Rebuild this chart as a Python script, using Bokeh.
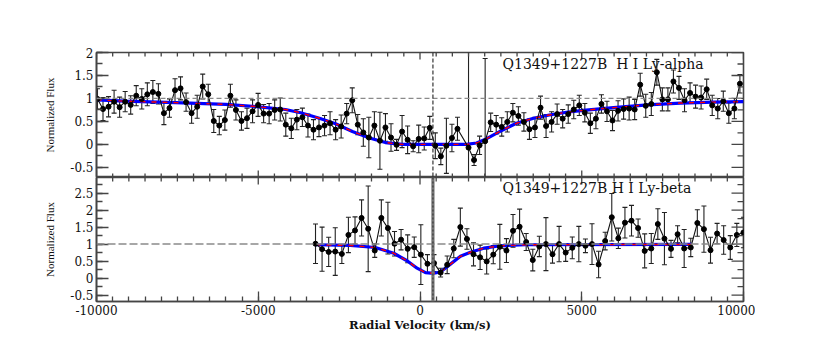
import numpy as np
from bokeh.plotting import figure
from bokeh.models import (ColumnDataSource, Label, LinearAxis, SingleIntervalTicker,
                          Range1d, Span)
from bokeh.layouts import column
from bokeh.embed import file_html
from bokeh.resources import INLINE

# ---------------- Ly-alpha panel data ----------------
LYA_V = [-9970, -9799, -9628, -9456, -9285, -9114, -8943, -8772, -8600, -8429,
         -8258, -8087, -7916, -7744, -7573, -7402, -7231, -7060, -6888, -6717,
         -6546, -6375, -6204, -6032, -5861, -5690, -5519, -5348, -5176, -5005,
         -4834, -4663, -4492, -4320, -4149, -3978, -3807, -3636, -3464, -3293,
         -3122, -2951, -2780, -2608, -2437, -2266, -2095, -1924, -1752, -1581,
         -1410, -1239, -1068, -896, -725, -554, -383, -212, -40, 131,
         302, 473, 644, 816, 987, 1158, 1500, 1671, 1842, 2014,
         2185, 2356, 2527, 2698, 2870, 3041, 3212, 3383, 3554, 3726,
         3897, 4068, 4239, 4410, 4582, 4753, 4924, 5095, 5266, 5438,
         5609, 5780, 5951, 6122, 6294, 6465, 6636, 6807, 6978, 7150,
         7321, 7492, 7663, 7834, 8006, 8177, 8348, 8519, 8690, 8862,
         9033, 9204, 9375, 9546, 9718, 9889]
LYA_F = [0.99, 0.77, 0.82, 0.93, 0.81, 0.93, 0.86, 1.06, 0.99, 1.09,
         1.14, 1.10, 0.68, 0.79, 1.18, 1.22, 0.92, 0.68, 0.82, 1.26,
         1.09, 0.51, 0.41, 0.53, 1.06, 0.75, 0.51, 0.57, 0.72, 0.86,
         0.67, 0.67, 0.75, 0.76, 0.43, 0.35, 0.54, 0.59, 0.41, 0.32,
         0.37, 0.41, 0.46, 0.32, 0.39, 0.67, 0.96, 0.43, 0.26, 0.15,
         0.41, 0.08, 0.37, 0.15, -0.01, 0.28, 0.10, -0.04, 0.12, 0.13,
         0.36, -0.03, -0.26, -0.03, 0.14, 0.34, -0.07, -0.34, -0.02, 0.07,
         0.48, 0.43, 0.38, 0.49, 0.69, 0.62, 0.49, 0.33, 0.37, 0.80,
         0.40, 0.49, 0.66, 0.56, 0.66, 0.76, 0.85, 0.69, 0.46, 0.56,
         0.88, 0.72, 0.52, 0.73, 0.77, 0.78, 0.76, 1.30, 0.84, 0.88,
         1.57, 0.98, 0.98, 1.37, 1.23, 0.96, 1.12, 1.04, 1.02, 1.20,
         0.85, 0.78, 0.94, 0.68, 0.78, 1.32]
LYA_E = [0.22, 0.25, 0.22, 0.25, 0.22, 0.22, 0.20, 0.22, 0.22, 0.25,
         0.25, 0.22, 0.25, 0.20, 0.25, 0.25, 0.20, 0.22, 0.25, 0.27,
         0.22, 0.25, 0.20, 0.22, 0.25, 0.22, 0.20, 0.22, 0.25, 0.25,
         0.20, 0.22, 0.22, 0.25, 0.25, 0.22, 0.22, 0.20, 0.25, 0.22,
         0.20, 0.22, 0.25, 0.22, 0.25, 0.22, 0.27, 0.22, 0.30, 0.44,
         0.30, 0.62, 0.30, 0.30, 0.12, 0.35, 0.30, 0.12, 0.30, 0.25,
         0.25, 0.28, 0.18, 0.60, 0.30, 0.25, 3.00, 0.12, 0.20, 1.80,
         0.20, 0.20, 0.20, 0.22, 0.20, 0.20, 0.20, 0.22, 0.22, 0.25,
         0.25, 0.22, 0.22, 0.20, 0.20, 0.20, 0.22, 0.20, 0.22, 0.22,
         0.20, 0.22, 0.22, 0.22, 0.22, 0.25, 0.22, 0.25, 0.25, 0.25,
         0.28, 0.25, 0.25, 0.25, 0.25, 0.25, 0.22, 0.25, 0.25, 0.22,
         0.22, 0.22, 0.22, 0.22, 0.22, 0.20]

LYA_MODEL_V = [-10000, -9100, -7560, -6010, -5180, -4160, -3690, -3110, -2610, -2090,
               -1560, -1070, -540, 1440, 1750, 1990, 2460, 2980, 3510, 4000,
               4530, 5050, 5980, 7030, 8050, 9070, 10000]
LYA_MODEL_F = [0.97, 0.94, 0.91, 0.87, 0.83, 0.76, 0.69, 0.57, 0.45, 0.28,
               0.14, 0.04, 0.0, 0.0, 0.03, 0.10, 0.28, 0.46, 0.57, 0.64,
               0.70, 0.74, 0.80, 0.86, 0.90, 0.92, 0.93]

# ---------------- Ly-beta panel data ----------------
LYB_V = [-3230, -3027, -2823, -2620, -2416, -2213, -2009, -1806, -1602, -1399,
         -1195, -992, -788, -585, -381, -178, 26, 230, 433, 637,
         840, 1044, 1247, 1451, 1654, 1858, 2061, 2265, 2468, 2672,
         2875, 3079, 3282, 3486, 3689, 3893, 4096, 4300, 4503, 4707,
         4910, 5114, 5317, 5521, 5724, 5928, 6131, 6335, 6538, 6742,
         6945, 7149, 7352, 7556, 7759, 7963, 8166, 8370, 8573, 8777,
         8980, 9184, 9387, 9591, 9794, 9998]
LYB_F = [1.01, 0.85, 0.77, 0.78, 0.71, 1.27, 1.40, 1.77, 1.45, 0.81,
         1.77, 1.47, 1.01, 1.13, 0.86, 0.91, 0.69, 0.42, 0.44, 0.16,
         0.39, 0.87, 1.50, 1.15, 0.70, 0.61, 0.49, 0.69, 0.92, 0.81,
         1.39, 1.51, 1.06, 0.53, 0.93, 1.00, 0.70, 1.00, 0.75, 0.89,
         1.00, 0.95, 1.00, 0.40, 1.09, 1.79, 1.17, 1.63, 1.69, 1.47,
         0.80, 0.87, 1.59, 1.16, 0.86, 1.29, 0.87, 0.90, 1.62, 1.44,
         0.82, 1.31, 1.12, 0.90, 1.27, 1.34]
LYB_E = [0.58, 0.65, 0.43, 0.70, 0.28, 0.52, 0.40, 0.53, 1.26, 0.20,
         0.53, 0.76, 0.36, 0.30, 0.41, 0.30, 0.88, 0.27, 0.25, 0.13,
         0.26, 0.27, 0.56, 0.30, 0.34, 0.36, 0.37, 0.27, 0.66, 0.35,
         0.48, 0.52, 0.25, 0.32, 0.30, 0.78, 0.26, 0.52, 0.26, 0.32,
         0.52, 0.20, 0.60, 0.39, 0.26, 0.70, 0.30, 0.45, 0.45, 0.27,
         0.50, 0.44, 0.45, 0.77, 0.25, 0.25, 0.56, 0.27, 0.39, 0.68,
         0.38, 0.30, 0.42, 0.35, 0.34, 0.45]

LYB_MODEL_V = [-3230, -2150, -1380, -810, -400, -90, 170, 430, 630, 940,
               1250, 1560, 1970, 2490, 3260, 8410]
LYB_MODEL_F = [0.98, 0.96, 0.90, 0.73, 0.51, 0.29, 0.16, 0.14, 0.18, 0.41,
               0.64, 0.76, 0.88, 0.95, 0.98, 0.99]

SYSTEMIC_V = 400
CONTINUUM = 1.0

X_RANGE = (-10000, 10000)
TOP_Y_RANGE = (-0.72, 2.0)
BOT_Y_RANGE = (-0.69, 2.96)

X_TICKS = [-10000, -5000, 0, 5000, 10000]
X_TICK_LABELS = ["-10000", "-5000", "0", "5000", "10000"]
TOP_Y_TICKS = [-0.5, 0, 0.5, 1, 1.5, 2]
TOP_Y_TICK_LABELS = ["-0.5", "0", "0.5", "1", "1.5", "2"]
BOT_Y_TICKS = [-0.5, 0, 0.5, 1, 1.5, 2, 2.5]
BOT_Y_TICK_LABELS = ["-0.5", "0", "0.5", "1", "1.5", "2", "2.5"]
X_MINOR_STEP = 500
Y_MINOR_STEP = 0.25

TOP_TITLE = "Q1349+1227B\u00a0 H I Ly-alpha"
BOT_TITLE = "Q1349+1227B H I Ly-beta"
Y_LABEL = "Normalized Flux"
X_LABEL = "Radial Velocity (km/s)"

AXIS_COLOR = "#454545"
TICK_FONT = "DejaVu Serif"


def make_axis(kind, major_in, minor_in, ticks, labels, axis_label):
    if kind == "x":
        ticker = SingleIntervalTicker(interval=5000, num_minor_ticks=10)
    else:
        ticker = SingleIntervalTicker(interval=0.5, num_minor_ticks=2)
    ax = LinearAxis(ticker=ticker)
    ax.major_tick_in = major_in
    ax.major_tick_out = 0
    ax.minor_tick_in = minor_in
    ax.minor_tick_out = 0
    ax.axis_line_color = AXIS_COLOR
    ax.axis_line_width = 1.6
    ax.major_tick_line_color = AXIS_COLOR
    ax.minor_tick_line_color = AXIS_COLOR
    ax.major_tick_line_width = 1.3
    ax.minor_tick_line_width = 1.3
    ax.major_label_overrides = {t: s for t, s in zip(ticks, labels)}
    ax.major_label_text_font = TICK_FONT
    ax.major_label_text_font_size = "12px"
    ax.major_label_text_color = "#111111"
    ax.major_label_standoff = 3
    ax.axis_label = axis_label
    return ax


def base_fig(yr, frame_h, top_border, bottom_border):
    p = figure(frame_width=647, frame_height=frame_h,
               x_range=Range1d(*X_RANGE), y_range=Range1d(*yr),
               output_backend="svg", toolbar_location=None,
               x_axis_location=None, y_axis_location=None,
               min_border_left=96, min_border_right=12,
               min_border_top=top_border, min_border_bottom=bottom_border,
               background_fill_color="white", border_fill_color="white")
    p.outline_line_color = AXIS_COLOR
    p.outline_line_width = 1.6
    p.xgrid.visible = False
    p.ygrid.visible = False
    return p


def inner_ticks(p, yr, x_major, y_major, sides):
    """Inward tick marks on unlabelled frame sides (half of a centred dash is clipped by the frame)."""
    xs_min = [v for v in np.arange(X_RANGE[0], X_RANGE[1] + 1, X_MINOR_STEP) if v not in x_major]
    y_all = np.arange(np.ceil(yr[0] / Y_MINOR_STEP) * Y_MINOR_STEP, yr[1] + 1e-9, Y_MINOR_STEP)
    ys_min = [v for v in y_all if not any(abs(v - m) < 1e-9 for m in y_major)]
    kw = dict(marker="dash", line_color=AXIS_COLOR, line_width=1.3)
    for side in sides:
        if side in ("top", "bottom"):
            yv = yr[1] if side == "top" else yr[0]
            p.scatter(x=list(x_major), y=[yv] * len(x_major), angle=np.pi / 2, size=14, **kw)
            p.scatter(x=xs_min, y=[yv] * len(xs_min), angle=np.pi / 2, size=8, **kw)
        else:
            xv = X_RANGE[1]
            p.scatter(x=[xv] * len(y_major), y=list(y_major), size=24, **kw)
            p.scatter(x=[xv] * len(ys_min), y=ys_min, size=12, **kw)


def draw_panel(p, v, f, e, mv, mf, cont_dash, cont_width):
    up = [a + b for a, b in zip(f, e)]
    lo = [a - b for a, b in zip(f, e)]
    src = ColumnDataSource(dict(v=v, f=f, up=up, lo=lo))
    p.add_layout(Span(location=CONTINUUM, dimension="width", line_color="#8a8a8a",
                      line_dash=cont_dash, line_width=cont_width))
    p.segment(x0="v", y0="lo", x1="v", y1="up", source=src, line_color="#222222", line_width=1.1)
    p.scatter(x="v", y="up", source=src, marker="dash", size=5, line_color="#222222", line_width=1.1)
    p.scatter(x="v", y="lo", source=src, marker="dash", size=5, line_color="#222222", line_width=1.1)
    p.line(mv, mf, line_color="#0000ff", line_width=3.2)
    p.line(mv, mf, line_color="#ff0000", line_width=1.4, line_dash="5 6")
    p.line(x="v", y="f", source=src, line_color="#111111", line_width=1.1)
    p.scatter(x="v", y="f", source=src, marker="circle", size=5,
              fill_color="#000000", line_color="#000000")


# ---------------- top panel ----------------
p1 = base_fig(TOP_Y_RANGE, 125, 52, 0)
draw_panel(p1, LYA_V, LYA_F, LYA_E, LYA_MODEL_V, LYA_MODEL_F, "5 3", 1.2)
p1.add_layout(Span(location=SYSTEMIC_V, dimension="height", line_color="#222222",
                   line_dash="4 2", line_width=1.1))
yl1 = make_axis("y", 12, 6, TOP_Y_TICKS, TOP_Y_TICK_LABELS, Y_LABEL)
p1.add_layout(yl1, "left")
inner_ticks(p1, TOP_Y_RANGE, X_TICKS, TOP_Y_TICKS, ("top", "bottom", "right"))
p1.add_layout(Label(x=2550, y=1.74, text=TOP_TITLE, text_font="DejaVu Serif",
                    text_font_size="14px", text_baseline="middle", text_color="#111111"))

# ---------------- bottom panel ----------------
p2 = base_fig(BOT_Y_RANGE, 124, 0, 40)
draw_panel(p2, LYB_V, LYB_F, LYB_E, LYB_MODEL_V, LYB_MODEL_F, "8 3", 1.5)
p2.add_layout(Span(location=SYSTEMIC_V, dimension="height", line_color="#777777",
                   line_width=3.2))
p2.add_layout(Span(location=SYSTEMIC_V, dimension="height", line_color="#333333",
                   line_dash="2 2", line_width=1))
xb = make_axis("x", 10, 5, X_TICKS, X_TICK_LABELS, X_LABEL)
p2.add_layout(xb, "below")
yl2 = make_axis("y", 12, 6, BOT_Y_TICKS, BOT_Y_TICK_LABELS, Y_LABEL)
p2.add_layout(yl2, "left")
inner_ticks(p2, BOT_Y_RANGE, X_TICKS, BOT_Y_TICKS, ("top", "right"))
p2.add_layout(Label(x=2550, y=2.66, text=BOT_TITLE, text_font="DejaVu Serif",
                    text_font_size="14px", text_baseline="middle", text_color="#111111"))

for ax in (yl1, yl2):
    ax.axis_label_text_font = "Liberation Serif"
    ax.axis_label_text_font_size = "11px"
    ax.axis_label_text_font_style = "normal"
    ax.axis_label_text_color = "#111111"
    ax.axis_label_standoff = 11

xb.axis_label_text_font = "DejaVu Serif"
xb.axis_label_text_font_size = "11.5px"
xb.axis_label_text_font_style = "bold"
xb.axis_label_text_color = "#111111"
xb.axis_label_standoff = 0

layout = column(p1, p2, spacing=0)
open("out.html", "w").write(file_html(layout, INLINE))
